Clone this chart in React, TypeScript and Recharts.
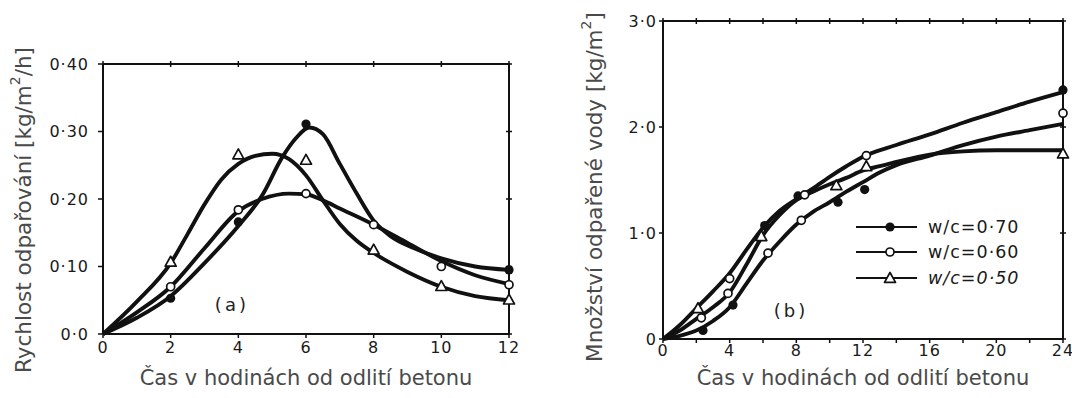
import React from 'react';
import { ComposedChart, Line, Scatter, XAxis, YAxis, Legend, ReferenceDot, Label } from 'recharts';

// ---------- shared ----------
const seriesNames = ['w/c=0·70', 'w/c=0·60', 'w/c=0·50'];
const xTitle = 'Čas v hodinách od odlití betonu';

// ---------- panel (a): evaporation rate ----------
const xDomainA: [number, number] = [0, 12];
const yDomainA: [number, number] = [0, 0.4];
const xTicksA = [0, 2, 4, 6, 8, 10, 12];
const xLabelsA = ['0', '2', '4', '6', '8', '10', '12'];
const yTicksA = [0, 0.1, 0.2, 0.3, 0.4];
const yLabelsA = ['0·0', '0·10', '0·20', '0·30', '0·40'];

const aCurve70: [number, number][] = [
  [0, 0], [1, 0.024], [2, 0.056], [3, 0.105], [4, 0.16], [4.7, 0.205], [5.3, 0.262], [5.7, 0.29],
  [6.1, 0.306], [6.5, 0.296], [7, 0.252], [7.5, 0.208], [8, 0.168], [8.5, 0.145], [9.2, 0.127],
  [10, 0.112], [11, 0.1], [12, 0.095],
];
const aCurve60: [number, number][] = [
  [0, 0], [1, 0.032], [2, 0.07], [3, 0.127], [4, 0.182], [4.7, 0.2], [5.5, 0.208], [6, 0.207],
  [6.5, 0.198], [7, 0.186], [8, 0.162], [9, 0.135], [10, 0.108], [11, 0.087], [12, 0.074],
];
const aCurve50: [number, number][] = [
  [0, 0], [1, 0.048], [2, 0.105], [2.5, 0.148], [3, 0.192], [3.5, 0.229], [4, 0.252], [4.5, 0.264],
  [5, 0.267], [5.5, 0.259], [6, 0.235], [6.5, 0.198], [7, 0.163], [7.5, 0.138], [8, 0.12],
  [9, 0.092], [10, 0.07], [11, 0.056], [12, 0.05],
];
const aPts70: [number, number][] = [[2, 0.053], [4, 0.166], [6, 0.311], [12, 0.095]];
const aPts60: [number, number][] = [[2, 0.07], [4, 0.184], [6, 0.208], [8, 0.162], [10, 0.1], [12, 0.073]];
const aPts50: [number, number][] = [[2, 0.107], [4, 0.266], [6, 0.258], [8, 0.125], [10, 0.071], [12, 0.051]];

// ---------- panel (b): cumulative evaporated water ----------
const xDomainB: [number, number] = [0, 24];
const yDomainB: [number, number] = [0, 3];
const xTicksB = [0, 2, 4, 6, 8, 10, 12, 14, 16, 18, 20, 22, 24];
const xLabelsB = ['0', '', '4', '', '8', '', '12', '', '16', '', '20', '', '24'];
const yTicksB = [0, 1, 2, 3];
const yLabelsB = ['0', '1·0', '2·0', '3·0'];

const bCurve70: [number, number][] = [
  [0, 0], [1, 0.13], [2, 0.29], [3, 0.45], [4, 0.62], [5, 0.84], [6, 1.05], [7, 1.21], [8, 1.32],
  [9, 1.42], [10, 1.53], [11, 1.63], [12, 1.72], [14, 1.83], [16, 1.93], [18, 2.04], [20, 2.14],
  [22, 2.24], [24, 2.33],
];
const bCurve60: [number, number][] = [
  [0, 0], [1, 0.03], [2, 0.08], [3, 0.17], [4, 0.3], [5, 0.52], [6, 0.74], [7, 0.92], [8, 1.08],
  [9, 1.2], [10, 1.29], [11, 1.39], [12, 1.48], [13, 1.57], [14, 1.64], [16, 1.73], [18, 1.83],
  [20, 1.91], [22, 1.97], [24, 2.03],
];
const bCurve50: [number, number][] = [
  [0, 0], [1, 0.08], [2, 0.19], [3, 0.3], [4, 0.44], [5, 0.7], [6, 0.98], [7, 1.17], [8, 1.31],
  [9, 1.39], [10, 1.46], [11, 1.52], [12, 1.59], [13, 1.63], [14, 1.67], [16, 1.74], [18, 1.77],
  [20, 1.78], [22, 1.78], [24, 1.78],
];
const bPts70: [number, number][] = [[2.4, 0.08], [4.2, 0.32], [6.1, 1.07], [8.1, 1.35], [10.5, 1.29], [12.1, 1.41], [24, 2.35]];
const bPts60: [number, number][] = [[2.3, 0.2], [3.9, 0.43], [4.0, 0.57], [6.3, 0.81], [8.3, 1.12], [8.5, 1.36], [12.2, 1.73], [24, 2.13]];
const bPts50: [number, number][] = [[2.1, 0.29], [5.9, 0.97], [10.4, 1.45], [12.2, 1.63], [24, 1.75]];

// ---------- helpers ----------
const toPts = (arr: [number, number][]) => arr.map(([x, y]) => ({ x, y }));
// frame (top + right border) built from the axis domains
const frame = (xd: [number, number], yd: [number, number]) => [
  { x: xd[0], y: yd[1] },
  { x: xd[1], y: yd[1] },
  { x: xd[1], y: yd[0] },
];
const topTicks = (xt: number[], yd: [number, number]) => xt.map((x) => ({ x, y: yd[1] }));
const rightTicks = (yt: number[], xd: [number, number]) => yt.map((y) => ({ x: xd[1], y }));

const INK = '#111';
const TITLE = '#4a4a4a';
const FONT = 'DejaVu Sans, sans-serif';

const FilledDot = (p: any) => <circle cx={p.cx} cy={p.cy} r={4.6} fill={INK} />;
const OpenDot = (p: any) => <circle cx={p.cx} cy={p.cy} r={4} fill="#fff" stroke={INK} strokeWidth={1.7} />;
const TriDot = (p: any) => {
  const s = 5.5;
  const pts = `${p.cx},${p.cy - s} ${p.cx - s},${p.cy + s * 0.8} ${p.cx + s},${p.cy + s * 0.8}`;
  return <polygon points={pts} fill="#fff" stroke={INK} strokeWidth={1.7} strokeLinejoin="round" />;
};
const shapes = [FilledDot, OpenDot, TriDot];
const VTick = (p: any) => <line x1={p.cx} y1={p.cy - 3} x2={p.cx} y2={p.cy + 3} stroke={INK} strokeWidth={1.5} />;
const HTick = (p: any) => <line x1={p.cx - 3} y1={p.cy} x2={p.cx + 3} y2={p.cy} stroke={INK} strokeWidth={1.5} />;

const tickStyle = { fill: '#1a1a1a', fontSize: 16, fontFamily: FONT, letterSpacing: 1 };
const axisLine = { stroke: INK, strokeWidth: 2 };
const tickLine = { stroke: INK, strokeWidth: 1.5 };

const fmt = (ticks: number[], labels: string[]) => (v: number) => {
  const i = ticks.findIndex((t) => Math.abs(t - v) < 1e-9);
  return i >= 0 ? labels[i] : '';
};

const makeXTitle = (dyFromTop: number) => (props: any) => {
  const vb = props.viewBox || {};
  const cx = vb.x + vb.width / 2;
  const cy = vb.y + dyFromTop;
  return (
    <text x={cx} y={cy} textAnchor="middle" dominantBaseline="central" fill={TITLE} fontSize={21} fontFamily={FONT}>
      {xTitle}
    </text>
  );
};

const makeYTitle = (main: string, tail: string, dxFromLeft: number, dyFromMid: number) => (props: any) => {
  const vb = props.viewBox || {};
  const cx = vb.x + dxFromLeft;
  const cy = vb.y + vb.height / 2 + dyFromMid;
  return (
    <text
      x={cx}
      y={cy}
      transform={`rotate(-90 ${cx} ${cy})`}
      textAnchor="middle"
      dominantBaseline="central"
      fill={TITLE}
      fontSize={21.5}
      fontFamily={FONT}
    >
      {main}
      <tspan dy={-8} fontSize={14}>2</tspan>
      <tspan dy={8}>{tail}</tspan>
    </text>
  );
};

const panelLabel = (text: string) => (props: any) => {
  const vb = props.viewBox || {};
  return (
    <text x={vb.x} y={vb.y} textAnchor="middle" dominantBaseline="central" fill="#222" fontSize={18} fontFamily={FONT} letterSpacing={3}>
      {text}
    </text>
  );
};

const LegendBox = () => (
  <div style={{ display: 'flex', flexDirection: 'column' }}>
    {seriesNames.map((name, i) => {
      const Shape = shapes[i];
      return (
        <div key={name} style={{ display: 'flex', alignItems: 'center', height: 25.5 }}>
          <svg width={61} height={16}>
            <line x1={0} y1={8} x2={61} y2={8} stroke={INK} strokeWidth={2} />
            <Shape cx={34} cy={8} />
          </svg>
          <span
            style={{
              marginLeft: 11,
              fontFamily: FONT,
              fontSize: 17.5,
              letterSpacing: 1,
              color: '#1a1a1a',
              fontStyle: i === 2 ? 'italic' : 'normal',
              lineHeight: '18px',
            }}
          >
            {name}
          </span>
        </div>
      );
    })}
  </div>
);

const lineProps = {
  type: 'monotone' as const,
  dataKey: 'y',
  stroke: INK,
  strokeWidth: 3.9,
  dot: false,
  activeDot: false,
  isAnimationActive: false,
  legendType: 'none' as const,
};

const frameProps = {
  type: 'linear' as const,
  dataKey: 'y',
  stroke: INK,
  strokeWidth: 2,
  dot: false,
  activeDot: false,
  isAnimationActive: false,
  legendType: 'none' as const,
};

export default function App() {
  const curvesA = [aCurve70, aCurve60, aCurve50];
  const ptsA = [aPts70, aPts60, aPts50];
  const curvesB = [bCurve70, bCurve60, bCurve50];
  const ptsB = [bPts70, bPts60, bPts50];

  return (
    <div style={{ position: 'absolute', left: 0, top: 0, width: 1072, height: 398, background: '#fff', overflow: 'hidden' }}>
      {/* Panel (a) */}
      <div style={{ position: 'absolute', left: 0, top: 0 }}>
        <ComposedChart width={540} height={398} margin={{ top: 64, right: 31, bottom: 10, left: 10 }}>
          <XAxis
            xAxisId="b"
            dataKey="x"
            type="number"
            domain={xDomainA}
            ticks={xTicksA}
            tickFormatter={fmt(xTicksA, xLabelsA)}
            height={54}
            axisLine={axisLine}
            tickLine={tickLine}
            tickSize={4}
            tickMargin={4}
            tick={tickStyle}
          >
            <Label content={makeXTitle(44)} />
          </XAxis>
          <YAxis
            yAxisId="l"
            type="number"
            domain={yDomainA}
            ticks={yTicksA}
            tickFormatter={fmt(yTicksA, yLabelsA)}
            width={93}
            axisLine={axisLine}
            tickLine={tickLine}
            tickSize={5}
            tickMargin={9}
            tick={tickStyle}
          >
            <Label content={makeYTitle('Rychlost odpařování [kg/m', '/h]', 13, 11)} />
          </YAxis>
          <Line xAxisId="b" yAxisId="l" data={frame(xDomainA, yDomainA)} {...frameProps} />
          <Scatter xAxisId="b" yAxisId="l" data={topTicks(xTicksA, yDomainA)} dataKey="y" shape={VTick} isAnimationActive={false} legendType="none" />
          <Scatter xAxisId="b" yAxisId="l" data={rightTicks(yTicksA, xDomainA)} dataKey="y" shape={HTick} isAnimationActive={false} legendType="none" />
          {curvesA.map((c, i) => (
            <Line key={'la' + i} xAxisId="b" yAxisId="l" data={toPts(c)} name={seriesNames[i]} {...lineProps} />
          ))}
          {ptsA.map((p, i) => (
            <Scatter key={'sa' + i} xAxisId="b" yAxisId="l" data={toPts(p)} dataKey="y" shape={shapes[i]} isAnimationActive={false} legendType="none" />
          ))}
          <ReferenceDot xAxisId="b" yAxisId="l" x={3.81} y={0.044} r={0} fill="none" stroke="none" label={panelLabel('(a)')} />
        </ComposedChart>
      </div>

      {/* Panel (b) */}
      <div style={{ position: 'absolute', left: 540, top: 0 }}>
        <ComposedChart width={532} height={398} margin={{ top: 21, right: 9, bottom: 9, left: 10 }}>
          <XAxis
            xAxisId="b"
            dataKey="x"
            type="number"
            domain={xDomainB}
            ticks={xTicksB}
            tickFormatter={fmt(xTicksB, xLabelsB)}
            height={50}
            axisLine={axisLine}
            tickLine={tickLine}
            tickSize={4}
            tickMargin={2}
            tick={tickStyle}
            interval={0}
          >
            <Label content={makeXTitle(39)} />
          </XAxis>
          <YAxis
            yAxisId="l"
            type="number"
            domain={yDomainB}
            ticks={yTicksB}
            tickFormatter={fmt(yTicksB, yLabelsB)}
            width={113}
            axisLine={axisLine}
            tickLine={tickLine}
            tickSize={4}
            tickMargin={2}
            tick={tickStyle}
          >
            <Label content={makeYTitle('Množství odpařené vody [kg/m', ']', 44, 7)} />
          </YAxis>
          <Line xAxisId="b" yAxisId="l" data={frame(xDomainB, yDomainB)} {...frameProps} />
          <Scatter xAxisId="b" yAxisId="l" data={topTicks(xTicksB, yDomainB)} dataKey="y" shape={VTick} isAnimationActive={false} legendType="none" />
          <Scatter xAxisId="b" yAxisId="l" data={rightTicks(yTicksB, xDomainB)} dataKey="y" shape={HTick} isAnimationActive={false} legendType="none" />
          {curvesB.map((c, i) => (
            <Line key={'lb' + i} xAxisId="b" yAxisId="l" data={toPts(c)} name={seriesNames[i]} {...lineProps} />
          ))}
          {ptsB.map((p, i) => (
            <Scatter key={'sb' + i} xAxisId="b" yAxisId="l" data={toPts(p)} dataKey="y" shape={shapes[i]} isAnimationActive={false} legendType="none" />
          ))}
          <ReferenceDot xAxisId="b" yAxisId="l" x={7.68} y={0.27} r={0} fill="none" stroke="none" label={panelLabel('(b)')} />
          <Legend
            layout="vertical"
            align="center"
            verticalAlign="middle"
            content={<LegendBox />}
            wrapperStyle={{ left: 316, top: 214, width: 'auto', height: 'auto' }}
          />
        </ComposedChart>
      </div>
    </div>
  );
}
